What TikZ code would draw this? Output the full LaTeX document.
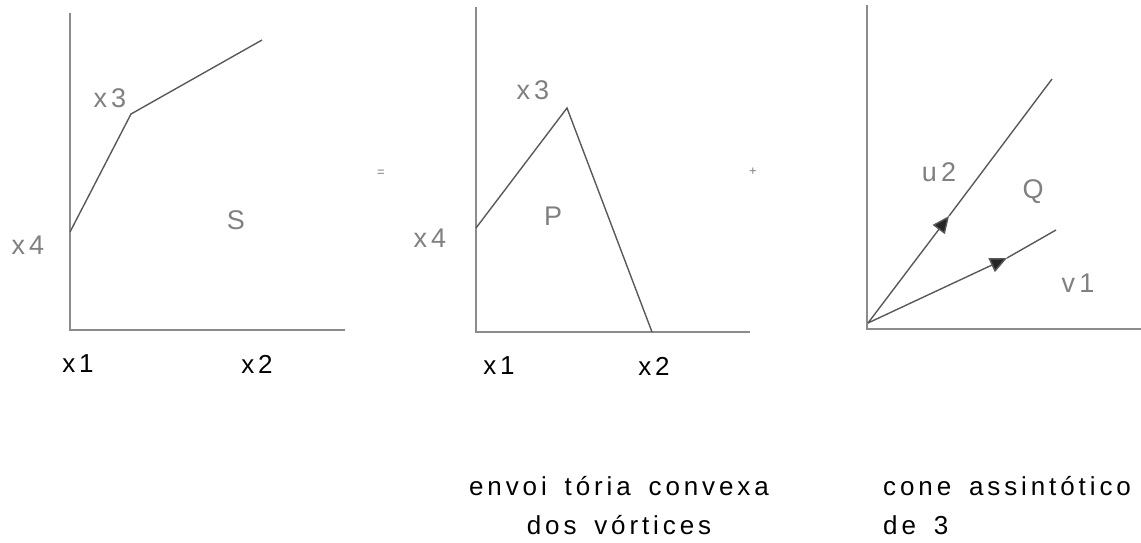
\documentclass[tikz,border=0pt]{standalone}
\usepackage{fontspec}
\setmainfont{Liberation Sans}
\newfontfamily\spaced[LetterSpace=15, WordSpace=1.6]{Liberation Sans}
\usetikzlibrary{arrows.meta, positioning}

\begin{document}
\begin{tikzpicture}[x=1pt, y=-1pt,
    axis/.style={black!45, line width=1.2pt},
    edge/.style={black!65, line width=1.4pt},
    vlabel/.style={text=black!50, font=\fontsize{27}{30}\selectfont\spaced},
    tlabel/.style={font=\fontsize{26}{30}\selectfont\spaced},
    caption/.style={font=\fontsize{26}{39}\selectfont\spaced, inner sep=0pt},
    sign/.style={text=black!50, font=\fontsize{13}{14}\selectfont},
    midtip/.style={-{Triangle[length=17pt, width=15pt, fill=black!85]}}]
  \useasboundingbox (0,0) rectangle (1141,542);

  % S
  \coordinate (s-top) at (70,13);
  \coordinate (s-o) at (70,330);
  \coordinate (s-right) at (345,330);
  \coordinate (s-x4) at (70,232);
  \coordinate (s-x3) at (131,114);
  \coordinate (s-end) at (262,40);
  \draw[axis] (s-top) -- (s-o) -- (s-right);
  \draw[edge] (s-x4) -- (s-x3) -- (s-end);
  \node[vlabel] (s-lx3) at (110,98) {x3};
  \node[vlabel] (s-lx4) at (28,245) {x4};
  \node[vlabel] (s-name) at (236,220) {S};
  \node[tlabel] (s-lx1) at (78,364) {x1};
  \node[tlabel] (s-lx2) at (257,364) {x2};

  \node[sign] (eq) at (381,173) {=};

  % P
  \coordinate (p-top) at (476,7);
  \coordinate (p-o) at (476,332);
  \coordinate (p-right) at (750,332);
  \coordinate (p-x4) at (476,228);
  \coordinate (p-x3) at (567,108);
  \coordinate (p-x2) at (652,332);
  \draw[axis] (p-top) -- (p-o) -- (p-right);
  \draw[edge] (p-x4) -- (p-x3) -- (p-x2);
  \node[vlabel] (p-lx3) at (533,90) {x3};
  \node[vlabel] (p-lx4) at (430,238) {x4};
  \node[vlabel] (p-name) at (553,216) {P};
  \node[tlabel] (p-lx1) at (499,366) {x1};
  \node[tlabel] (p-lx2) at (654,366) {x2};
  \node[caption, align=center, anchor=base] (p-cap) at (619,534)
    {envoi tória convexa\\dos vórtices};

  \node[sign] (plus) at (753,172) {+};

  % Q
  \coordinate (q-top) at (867,5);
  \coordinate (q-o) at (867,329);
  \coordinate (q-right) at (1141,329);
  \coordinate (q-0) at (868,323);
  \coordinate (q-u2tip) at (949,216);
  \coordinate (q-u2) at (1052,79);
  \coordinate (q-v1tip) at (1007,258);
  \coordinate (q-v1) at (1056,230);
  \draw[axis] (q-top) -- (q-o) -- (q-right);
  \draw[edge, midtip] (q-0) -- (q-u2tip);
  \draw[edge] (q-u2tip) -- (q-u2);
  \draw[edge, midtip] (q-0) -- (q-v1tip);
  \draw[edge] (q-v1tip) -- (q-v1);
  \node[vlabel] (q-lu2) at (939,172) {u2};
  \node[vlabel] (q-name) at (1033,192) {Q};
  \node[vlabel] (q-lv1) at (1078,283) {v1};
  \node[caption, align=left, anchor=base west] (q-cap) at (883,534)
    {cone assintótico\\de 3};
\end{tikzpicture}
\end{document}
